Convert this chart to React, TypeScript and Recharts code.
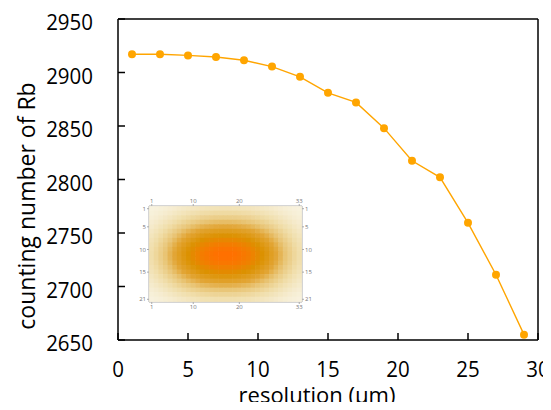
import { Line, LineChart, Scatter, ScatterChart, XAxis, YAxis } from 'recharts'

// resolution (µm) vs counting number of Rb
const resolution = [1, 3, 5, 7, 9, 11, 13, 15, 17, 19, 21, 23, 25, 27, 29]
const rbCounts = [2917, 2917, 2916, 2914.5, 2911.5, 2905.5, 2896, 2881, 2872, 2848, 2817.5, 2802, 2759.5, 2711, 2655]
const xTicks = [0, 5, 10, 15, 20, 25, 30]
const yTicks = [2650, 2700, 2750, 2800, 2850, 2900, 2950]

// inset image: relative intensity profiles read along the columns and rows
const insetColProfile = [
  0.24, 0.29, 0.35, 0.41, 0.48, 0.55, 0.62, 0.69, 0.75, 0.81, 0.86, 0.91, 0.94, 0.97, 0.99, 1.0, 1.0,
  1.0, 0.99, 0.97, 0.94, 0.91, 0.86, 0.81, 0.75, 0.69, 0.62, 0.55, 0.48, 0.41, 0.35, 0.29, 0.24,
]
const insetRowProfile = [
  0.2, 0.27, 0.35, 0.44, 0.54, 0.64, 0.74, 0.83, 0.91, 0.97, 1.0, 0.99, 0.95, 0.88, 0.8, 0.7, 0.6, 0.5,
  0.4, 0.31, 0.23,
]
const insetColTicks = [1, 10, 20, 33]
const insetRowTicks = [1, 5, 10, 15, 21]

const FONT = '"Open Sans", "DejaVu Sans", sans-serif'
const ORANGE = '#ffa500'

const chartData = resolution.map((r, i) => ({ resolution: r, count: rbCounts[i] }))

const cells = insetRowProfile.flatMap((rv, ri) =>
  insetColProfile.map((cv, ci) => ({ col: ci + 1, row: ri + 1, v: rv * cv })),
)

// colour ramp: cream -> tan -> gold -> orange
const stops: [number, number[]][] = [
  [0, [250, 247, 234]],
  [0.1, [246, 237, 210]],
  [0.25, [240, 221, 168]],
  [0.4, [233, 198, 120]],
  [0.55, [226, 165, 53]],
  [0.75, [220, 145, 0]],
  [0.88, [240, 128, 0]],
  [1, [255, 112, 0]],
]

function heatColor(t: number) {
  for (let i = 1; i < stops.length; i++) {
    if (t <= stops[i][0]) {
      const [t0, c0] = stops[i - 1]
      const [t1, c1] = stops[i]
      const f = (t - t0) / (t1 - t0)
      const c = c0.map((v, k) => Math.round(v + (c1[k] - v) * f))
      return `rgb(${c[0]},${c[1]},${c[2]})`
    }
  }
  return 'rgb(255,112,0)'
}

const INSET_W = 200
const INSET_H = 130
const INSET_M = { left: 19, right: 28, top: 16, bottom: 18 }
const X_DOM: [number, number] = [0.4, 33.6]
const Y_DOM: [number, number] = [0.4, 21.6]
const cellW = (INSET_W - INSET_M.left - INSET_M.right) / (X_DOM[1] - X_DOM[0])
const cellH = (INSET_H - INSET_M.top - INSET_M.bottom) / (Y_DOM[1] - Y_DOM[0])

function HeatCell(props: any) {
  const { cx, cy, payload } = props
  return (
    <rect
      x={cx - cellW / 2 - 0.3}
      y={cy - cellH / 2 - 0.3}
      width={cellW + 0.6}
      height={cellH + 0.6}
      fill={heatColor(payload.v)}
    />
  )
}

function StretchTick(props: any) {
  const { x, y, payload, textAnchor, dyShift = 0 } = props
  return (
    <g transform={`translate(${x},${y + dyShift}) scale(1,1.1)`}>
      <text x={0} y={0} dy="0.36em" textAnchor={textAnchor} fontFamily={FONT} fontSize={20.5} fill="#000">
        {payload.value}
      </text>
    </g>
  )
}

function YTitle() {
  return (
    <text
      x={27}
      y={206}
      transform="rotate(-90, 27, 206)"
      textAnchor="middle"
      dy="0.36em"
      fontFamily={FONT}
      fontSize={23}
      fill="#000"
    >
      counting number of Rb
    </text>
  )
}

function XTitle() {
  return (
    <text x={317} y={395} textAnchor="middle" dy="0.36em" fontFamily={FONT} fontSize={22} fill="#000">
      resolution (µm)
    </text>
  )
}

const insetTick = { fontSize: 6, fill: '#777', fontFamily: FONT }

function Inset() {
  return (
    <ScatterChart width={INSET_W} height={INSET_H} margin={{ top: 0, right: 0, bottom: 0, left: 0 }}>
      <XAxis
        xAxisId="b"
        orientation="bottom"
        type="number"
        dataKey="col"
        domain={X_DOM}
        allowDataOverflow
        ticks={insetColTicks}
        height={INSET_M.bottom}
        tick={insetTick}
        tickSize={2}
        tickMargin={1}
        stroke="#aaa"
      />
      <XAxis
        xAxisId="t"
        orientation="top"
        type="number"
        dataKey="col"
        domain={X_DOM}
        allowDataOverflow
        ticks={insetColTicks}
        height={INSET_M.top}
        tick={insetTick}
        tickSize={2}
        tickMargin={1}
        stroke="#aaa"
      />
      <YAxis
        yAxisId="l"
        orientation="left"
        type="number"
        dataKey="row"
        domain={Y_DOM}
        reversed
        allowDataOverflow
        ticks={insetRowTicks}
        width={INSET_M.left}
        tick={insetTick}
        tickSize={2}
        tickMargin={1}
        stroke="#aaa"
      />
      <YAxis
        yAxisId="r"
        orientation="right"
        type="number"
        dataKey="row"
        domain={Y_DOM}
        reversed
        allowDataOverflow
        ticks={insetRowTicks}
        width={INSET_M.right}
        tick={insetTick}
        tickSize={2}
        tickMargin={1}
        stroke="#aaa"
      />
      <Scatter data={cells} xAxisId="b" yAxisId="l" shape={HeatCell} isAnimationActive={false} />
      {/* keeps the top and right frame axes tied to the same cells */}
      <Scatter data={cells} xAxisId="t" yAxisId="r" shape={() => <g />} isAnimationActive={false} />
    </ScatterChart>
  )
}

export default function App() {
  return (
    <div style={{ position: 'relative', width: 551, height: 410, margin: -8, background: '#fff' }}>
      <LineChart width={551} height={410} data={chartData} margin={{ top: 0, right: 0, bottom: 0, left: 0 }}>
        <XAxis
          xAxisId="b"
          orientation="bottom"
          type="number"
          dataKey="resolution"
          domain={[0, 30]}
          allowDataOverflow
          ticks={xTicks}
          height={70}
          tickSize={-7}
          tickMargin={35.5}
          tick={<StretchTick />}
          stroke="#000"
          strokeWidth={1.5}
          label={XTitle}
        />
        <XAxis
          xAxisId="t"
          orientation="top"
          type="number"
          dataKey="resolution"
          domain={[0, 30]}
          allowDataOverflow
          ticks={xTicks}
          height={19}
          tickSize={-5}
          tick={false}
          stroke="#000"
          strokeWidth={1.5}
        />
        <YAxis
          yAxisId="l"
          orientation="left"
          type="number"
          domain={[2650, 2950]}
          allowDataOverflow
          ticks={yTicks}
          width={118}
          tickSize={-7}
          tickMargin={32}
          tick={<StretchTick dyShift={3} />}
          stroke="#000"
          strokeWidth={1.5}
          label={YTitle}
        />
        <YAxis
          yAxisId="r"
          orientation="right"
          type="number"
          domain={[2650, 2950]}
          allowDataOverflow
          ticks={yTicks}
          width={13}
          tickSize={-7}
          tick={false}
          stroke="#000"
          strokeWidth={1.5}
        />
        <Line
          xAxisId="b"
          yAxisId="l"
          type="linear"
          dataKey="count"
          stroke={ORANGE}
          strokeWidth={1.4}
          dot={{ r: 4, fill: ORANGE, stroke: 'none' }}
          isAnimationActive={false}
        />
        {/* invisible twin so the top and right frame axes share the data */}
        <Line
          xAxisId="t"
          yAxisId="r"
          type="linear"
          dataKey="count"
          stroke="none"
          dot={false}
          activeDot={false}
          legendType="none"
          isAnimationActive={false}
        />
      </LineChart>
      <div style={{ position: 'absolute', left: 130, top: 190, width: INSET_W, height: INSET_H }}>
        <Inset />
      </div>
    </div>
  )
}
